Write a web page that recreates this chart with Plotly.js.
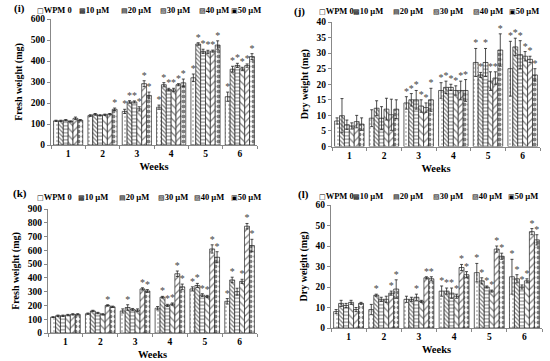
<!DOCTYPE html>
<html>
<head>
<meta charset="utf-8">
<script src="https://cdn.plot.ly/plotly-3.0.1.min.js"></script>
<style>html,body{margin:0;padding:0;background:#fff;}#chart{width:550px;height:361px;}</style>
</head>
<body>
<div id="chart"></div>
<script>
// ---------- data ----------
const weeks = ['1', '2', '3', '4', '5', '6'];
const seriesNames = ['WPM 0', '10 µM', '20 µM', '30 µM', '40 µM', '50 µM'];
const legendGlyphs = ['□', '▩', '▤', '▧', '▨', '▣'];

// (i) fresh weight, rows = series, columns = weeks
const iMean = [
  [115, 140, 160, 180, 320, 230],
  [115, 146, 205, 287, 481, 361],
  [118, 141, 205, 264, 446, 379],
  [112, 144, 172, 262, 443, 362],
  [127, 147, 292, 287, 447, 378],
  [118, 170, 236, 296, 476, 421]
];
const iErr = [
  [3, 4, 10, 10, 18, 22],
  [3, 4, 6, 10, 6, 14],
  [3, 3, 5, 6, 10, 10],
  [3, 3, 10, 8, 8, 8],
  [6, 3, 14, 5, 5, 8],
  [3, 6, 16, 18, 20, 14]
];
const iStar = [
  [0, 0, 1, 1, 1, 1],
  [0, 0, 1, 1, 1, 1],
  [0, 0, 1, 1, 1, 1],
  [0, 0, 1, 1, 1, 1],
  [0, 0, 1, 1, 1, 1],
  [0, 1, 1, 1, 1, 1]
];

// (j) dry weight
const jMean = [
  [8.2, 9.1, 14, 18, 27, 25],
  [9.9, 12.3, 15, 19, 23, 32],
  [7, 9.1, 15, 19, 27, 29.5],
  [6.6, 12, 13, 18, 21, 29],
  [8, 10.2, 12.5, 18, 22, 28],
  [7.2, 12, 15, 18, 31, 23]
];
const jErr = [
  [1, 2.7, 2, 2.5, 4.5, 8.8],
  [5.5, 2.4, 2, 2, 0.8, 2.8],
  [1.5, 3.7, 3, 1, 4.5, 4.5],
  [1, 3.5, 2, 1.5, 3, 1.5],
  [2, 5, 1.5, 3, 2, 1],
  [2, 3, 3.7, 3.5, 5.2, 2]
];
const jStar = [
  [0, 0, 1, 1, 1, 1],
  [0, 0, 1, 1, 1, 1],
  [0, 0, 1, 1, 1, 1],
  [0, 0, 1, 1, 1, 1],
  [0, 0, 1, 1, 1, 1],
  [0, 0, 1, 1, 1, 1]
];

// (k) fresh weight
const kMean = [
  [115, 140, 160, 180, 320, 230],
  [125, 160, 185, 260, 345, 385],
  [125, 145, 170, 200, 275, 300],
  [130, 135, 165, 210, 265, 375],
  [135, 200, 320, 430, 610, 775],
  [135, 190, 305, 335, 550, 635]
];
const kErr = [
  [3, 5, 15, 12, 15, 20],
  [5, 5, 20, 6, 15, 20],
  [5, 5, 8, 8, 10, 25],
  [5, 5, 10, 8, 8, 15],
  [5, 5, 8, 20, 30, 20],
  [5, 5, 10, 20, 40, 45]
];
const kStar = [
  [0, 0, 0, 0, 1, 1],
  [0, 0, 1, 1, 1, 1],
  [0, 0, 0, 1, 1, 0],
  [0, 0, 0, 1, 1, 1],
  [0, 1, 1, 1, 1, 1],
  [0, 0, 1, 1, 1, 1]
];

// (l) dry weight
const lMean = [
  [8, 9, 14, 18, 27, 25],
  [12, 16, 14, 18, 23, 24],
  [11, 14, 15, 17, 20, 20],
  [12.5, 14, 13, 15.5, 18, 23],
  [9, 17, 24.5, 29.5, 38.5, 47],
  [12, 19, 24, 26, 35, 43]
];
const lErr = [
  [1, 2.5, 1.5, 2.5, 4.5, 8.5],
  [1.5, 0.5, 1, 1.5, 1.5, 2],
  [1, 1, 1.5, 2.5, 0.5, 1],
  [1, 1.5, 0.5, 1, 0.5, 1],
  [1, 1, 0.5, 1.5, 1.5, 1.5],
  [0.5, 4.5, 1, 1.5, 1.5, 2.5]
];
const lStar = [
  [0, 0, 0, 1, 1, 1],
  [0, 1, 0, 1, 1, 1],
  [0, 0, 1, 1, 1, 1],
  [0, 0, 0, 1, 1, 1],
  [0, 1, 1, 1, 1, 1],
  [0, 1, 1, 1, 1, 1]
];

// ---------- styles ----------
const patterns = [
  {shape: '.', size: 4, solidity: 0.12},
  {shape: '\\', size: 3, solidity: 0.4},
  {shape: '-', size: 3.5, solidity: 0.3},
  {shape: '\\', size: 5, solidity: 0.25},
  {shape: '/', size: 5, solidity: 0.25},
  {shape: '.', size: 5, solidity: 0.5}
];
const serif = 'Liberation Serif, Times New Roman, serif';

const panels = [
  {mean: iMean, err: iErr, star: iStar, ax: '', range: [0, 600], dtick: 100, ytitle: 'Fresh weight (mg)',
   xd: [51 / 550, 257 / 550], yd: [1 - 145 / 361, 1 - 19 / 361], label: '(i)', lx: 12, ly: 9,
   legX: [35, 77, 119, 158, 197, 229], legY: 10},
  {mean: jMean, err: jErr, star: jStar, ax: '2', range: [0, 40], dtick: 5, ytitle: 'Dry weight (mg)',
   xd: [332 / 550, 540 / 550], yd: [1 - 146.5 / 361, 1 - 22 / 361], label: '(j)', lx: 292, ly: 11,
   legX: [317, 351, 391, 431, 471, 507], legY: 11},
  {mean: kMean, err: kErr, star: kStar, ax: '3', range: [0, 900], dtick: 100, ytitle: 'Fresh weight (mg)',
   xd: [48 / 550, 257 / 550], yd: [1 - 333 / 361, 1 - 209 / 361], label: '(k)', lx: 11, ly: 193,
   legX: [35, 76, 117, 156, 192, 229], legY: 197},
  {mean: lMean, err: lErr, star: lStar, ax: '4', range: [0, 60], dtick: 10, ytitle: 'Dry weight (mg)',
   xd: [331 / 550, 542 / 550], yd: [1 - 328 / 361, 1 - 205 / 361], label: '(l)', lx: 296, ly: 194,
   legX: [317, 351, 391, 431, 470, 506], legY: 196}
];

const data = [];
const annotations = [];
const layout = {
  width: 550, height: 361,
  margin: {l: 0, r: 0, t: 0, b: 0},
  paper_bgcolor: 'white', plot_bgcolor: 'white',
  barmode: 'group', bargap: 0.15, bargroupgap: 0,
  showlegend: false,
  font: {family: serif, color: 'black'},
  annotations: annotations
};

panels.forEach(p => {
  const xa = 'x' + p.ax, ya = 'y' + p.ax;
  seriesNames.forEach((name, s) => {
    data.push({
      type: 'bar', x: weeks, y: p.mean[s], name: name,
      xaxis: xa, yaxis: ya, offsetgroup: String(s),
      marker: {color: 'white', line: {color: '#222', width: 0.7},
        pattern: Object.assign({fgcolor: 'black', bgcolor: 'white', fillmode: 'overlay'}, patterns[s])},
      error_y: {type: 'data', array: p.err[s], color: '#222', thickness: 0.8, width: 1.5},
      hoverinfo: 'skip'
    });
    data.push({
      type: 'bar', x: weeks, y: weeks.map(() => 0),
      base: p.mean[s].map((v, i) => v + p.err[s][i]),
      text: p.star[s].map(v => v ? '*' : ''),
      textposition: 'outside', constraintext: 'none', cliponaxis: false,
      textfont: {family: serif, size: 10, color: '#444'},
      xaxis: xa, yaxis: ya, offsetgroup: String(s),
      marker: {color: 'rgba(0,0,0,0)', line: {width: 0}},
      showlegend: false, hoverinfo: 'skip'
    });
  });

  layout['xaxis' + p.ax] = {
    domain: p.xd, anchor: ya, type: 'category',
    showline: true, linecolor: '#888', linewidth: 1,
    ticks: 'outside', tickson: 'boundaries', ticklen: 3, tickcolor: '#888',
    tickfont: {family: serif, size: 9.5, weight: 'bold', color: 'black'},
    showgrid: false, zeroline: false, fixedrange: true,
    title: {text: 'Weeks', font: {family: serif, size: 10.5, weight: 'bold', color: 'black'}, standoff: 4}
  };
  layout['yaxis' + p.ax] = {
    domain: p.yd, anchor: xa, range: p.range, dtick: p.dtick,
    showline: true, linecolor: '#888', linewidth: 1,
    ticks: 'outside', ticklen: 3, tickcolor: '#888',
    tickfont: {family: serif, size: 9.5, weight: 'bold', color: 'black'},
    showgrid: false, zeroline: false, fixedrange: true,
    title: {text: p.ytitle, font: {family: serif, size: 10, weight: 'bold', color: 'black'}, standoff: 6}
  };

  annotations.push({
    xref: 'paper', yref: 'paper', x: p.lx / 550, y: 1 - p.ly / 361,
    xanchor: 'left', yanchor: 'middle', showarrow: false,
    text: '<b>' + p.label + '</b>', font: {family: serif, size: 11, color: 'black'}
  });
  seriesNames.forEach((name, s) => {
    annotations.push({
      xref: 'paper', yref: 'paper', x: p.legX[s] / 550, y: 1 - p.legY / 361,
      xanchor: 'left', yanchor: 'middle', showarrow: false,
      text: '<span style="font-family:DejaVu Sans;font-size:7px">' + legendGlyphs[s] + '</span><b>' + name + '</b>',
      font: {family: serif, size: 8.5, color: 'black'}
    });
  });
});

Plotly.newPlot('chart', data, layout, {staticPlot: true, displayModeBar: false});
</script>
</body>
</html>
